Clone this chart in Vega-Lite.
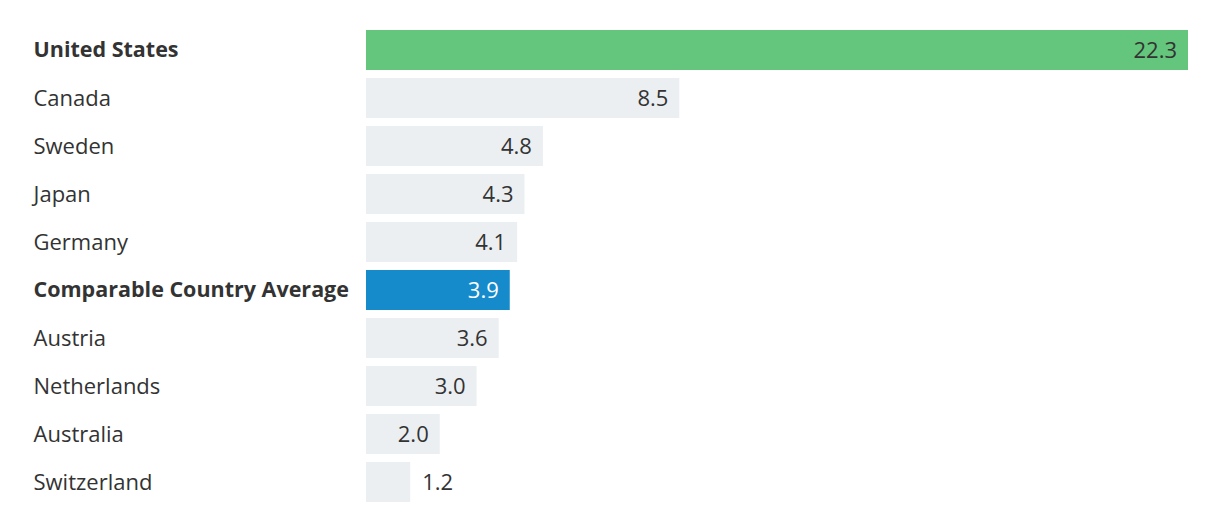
{
  "$schema": "https://vega.github.io/schema/vega-lite/v6.json",
  "width": 822,
  "height": 480,
  "autosize": {"type": "none"},
  "padding": {"left": 366, "top": 26, "right": 32, "bottom": 26},
  "background": "#ffffff",
  "config": {"view": {"stroke": null}, "font": "Open Sans"},
  "data": {
    "values": [
      {"country": "United States", "value": 22.3, "group": "us"},
      {"country": "Canada", "value": 8.5, "group": "other"},
      {"country": "Sweden", "value": 4.8, "group": "other"},
      {"country": "Japan", "value": 4.3, "group": "other"},
      {"country": "Germany", "value": 4.1, "group": "other"},
      {"country": "Comparable Country Average", "value": 3.9, "group": "avg"},
      {"country": "Austria", "value": 3.6, "group": "other"},
      {"country": "Netherlands", "value": 3.0, "group": "other"},
      {"country": "Australia", "value": 2.0, "group": "other"},
      {"country": "Switzerland", "value": 1.2, "group": "other"}
    ]
  },
  "encoding": {
    "y": {
      "field": "country",
      "type": "nominal",
      "sort": null,
      "scale": {"paddingInner": 0.1667, "paddingOuter": 0.0833},
      "axis": {
        "title": null,
        "domain": false,
        "ticks": false,
        "labelAlign": "left",
        "labelPadding": 333,
        "labelFontSize": {
          "condition": {"test": "datum.value == 'United States' || datum.value == 'Comparable Country Average'", "value": 21.5},
          "value": 22
        },
        "labelOffset": 1,
        "labelColor": "#333333",
        "labelFont": "Open Sans",
        "labelLimit": 340,
        "labelFontWeight": {
          "condition": {"test": "datum.value == 'United States' || datum.value == 'Comparable Country Average'", "value": "bold"},
          "value": "normal"
        }
      }
    }
  },
  "layer": [
    {
      "mark": {"type": "bar"},
      "encoding": {
        "x": {"field": "value", "type": "quantitative", "scale": {"domain": [0, 22.3], "nice": false}, "axis": null},
        "color": {
          "field": "group",
          "type": "nominal",
          "scale": {"domain": ["us", "avg", "other"], "range": ["#64C67C", "#168BCC", "#EBEFF2"]},
          "legend": null
        }
      }
    },
    {
      "transform": [{"filter": "datum.value >= 2"}],
      "mark": {"type": "text", "align": "right", "baseline": "middle", "dx": -11, "dy": 1, "fontSize": 22, "font": "Open Sans"},
      "encoding": {
        "x": {"field": "value", "type": "quantitative"},
        "text": {"field": "value", "type": "quantitative", "format": ".1f"},
        "color": {
          "condition": {"test": "datum.group == 'avg'", "value": "#ffffff"},
          "value": "#333333"
        }
      }
    },
    {
      "transform": [{"filter": "datum.value < 2"}],
      "mark": {"type": "text", "align": "left", "baseline": "middle", "dx": 12, "dy": 1, "fontSize": 22, "font": "Open Sans", "color": "#333333"},
      "encoding": {
        "x": {"field": "value", "type": "quantitative"},
        "text": {"field": "value", "type": "quantitative", "format": ".1f"}
      }
    }
  ]
}
